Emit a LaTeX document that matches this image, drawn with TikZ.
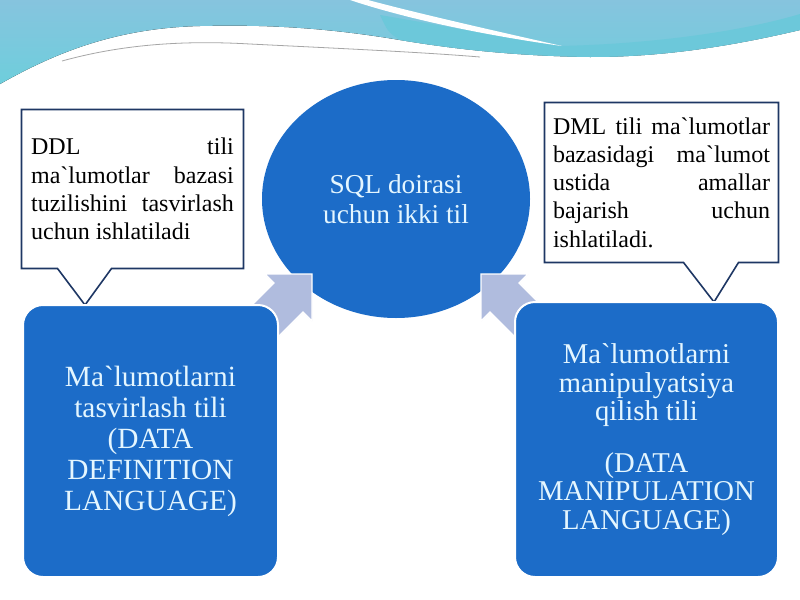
\documentclass[tikz,border=0pt]{standalone}
\usepackage{fontspec}
\setmainfont{Liberation Serif}[Ligatures=TeXOff]
\usetikzlibrary{shapes.geometric,calc,backgrounds}

\definecolor{sqlblue}{RGB}{28,108,200}
\definecolor{paletext}{RGB}{228,246,255}
\definecolor{notenavy}{RGB}{30,55,100}
\definecolor{arrowgray}{RGB}{176,188,222}
\definecolor{bannerblue}{RGB}{134,196,222}
\definecolor{bannerteal}{RGB}{110,206,220}
\definecolor{bandteal}{RGB}{108,200,218}

\tikzset{every picture/.style={line width=0.75pt},
  langbox/.style={draw=white, line width=1.5, fill=sqlblue, rounded corners=15pt,
    align=center, text=paletext, inner sep=0pt},
  notebox/.style={draw=notenavy, line width=1.2, fill=white},
  notetext/.style={text width=152pt, align=justify, inner sep=0pt,
    font=\fontsize{18}{21.2}\selectfont},
  backarrow/.style={fill=arrowgray, draw=white, line width=1}}

\begin{document}
\begin{tikzpicture}[x=0.75pt,y=0.75pt,yscale=-1,xscale=1]
\useasboundingbox (0,0) rectangle (800,600);

%Shape: Banner
\fill[top color=bannerblue, bottom color=bannerteal] (0,0) -- (800,0) -- (800,30)
  .. controls (740,44) and (670,57) .. (590,57)
  .. controls (520,56) and (460,50) .. (400,40)
  .. controls (340,30) and (280,24) .. (200,26)
  .. controls (120,28) and (60,50) .. (0,84) -- cycle ;
%Shape: Band
\fill[bandteal] (380,15) .. controls (450,27) and (520,40) .. (560,46)
  .. controls (650,44) and (740,32) .. (800,14) -- (800,30)
  .. controls (740,44) and (670,57) .. (590,57)
  .. controls (520,56) and (460,50) .. (400,40)
  .. controls (388,32) .. (380,15) -- cycle ;
%Shape: Streak
\fill[white] (350,0) -- (368,0) .. controls (420,14) and (500,32) .. (562,46)
  .. controls (490,36) and (410,20) .. (350,0) -- cycle ;
%Curve Lines
\draw[gray!70, line width=0.6] (62,61) .. controls (120,45) and (180,40) .. (250,44)
  .. controls (330,48) and (420,52) .. (480,57) ;

%Shape: Ellipse
\node[ellipse, fill=sqlblue, minimum width=201pt, minimum height=178.5pt, inner sep=0pt,
  align=center, text=paletext, font=\fontsize{20.5}{22.5}\selectfont] (sql) at (396,199)
  {SQL doirasi\\uchun ikki til};

%Shape: Arrows
\draw[backarrow] (312,274) -- (265,274) -- (274,283) -- (234,323) -- (263,352) -- (303,312) -- (312,321) -- cycle ;
\draw[backarrow] (481,274) -- (528,274) -- (519,283) -- (559,323) -- (530,352) -- (490,312) -- (481,321) -- cycle ;

%Shape: Rectangles
\node[langbox, minimum width=191.25pt, minimum height=204pt,
  font=\fontsize{22}{23.25}\selectfont] (ddl) at (150.5,441)
  {Ma`lumotlarni\\tasvirlash tili\\(DATA\\DEFINITION\\LANGUAGE)};
\node[langbox, minimum width=197.25pt, minimum height=206.25pt,
  font=\fontsize{21.5}{21.5}\selectfont] (dml) at (646.5,439.5)
  {Ma`lumotlarni\\manipulyatsiya\\qilish tili\\[17pt](DATA\\MANIPULATION\\LANGUAGE)};

% Text Node
\node[notetext, minimum width=165.75pt, minimum height=118.5pt] (ddlnote) at (132.5,189)
  {DDL tili\linebreak ma`lumotlar bazasi\linebreak tuzilishini tasvirlash\linebreak uchun ishlatiladi};
% Text Node
\node[notetext, text width=162.75pt, minimum width=174.75pt, minimum height=119.25pt] (dmlnote) at (661.5,182.5)
  {DML tili ma`lumotlar\linebreak bazasidagi ma`lumot\linebreak ustida amallar\linebreak bajarish uchun\linebreak ishlatiladi.};

\coordinate (ddltip) at (85,305);
\coordinate (dmltip) at (714,302);

%Shape: Callouts
\begin{scope}[on background layer]
\fill[white] (0,0) rectangle (800,600);
\draw[notebox] (ddlnote.north west) -- (ddlnote.north east) -- (ddlnote.south east)
  -- ($(ddlnote.south west)+(90,0)$) -- (ddltip) -- ($(ddlnote.south west)+(36,0)$)
  -- (ddlnote.south west) -- cycle ;
\draw[notebox] (dmlnote.north west) -- (dmlnote.north east) -- (dmlnote.south east)
  -- ($(dmlnote.south east)+(-40,0)$) -- (dmltip) -- ($(dmlnote.south east)+(-95,0)$)
  -- (dmlnote.south west) -- cycle ;
\end{scope}

\end{tikzpicture}
\end{document}
